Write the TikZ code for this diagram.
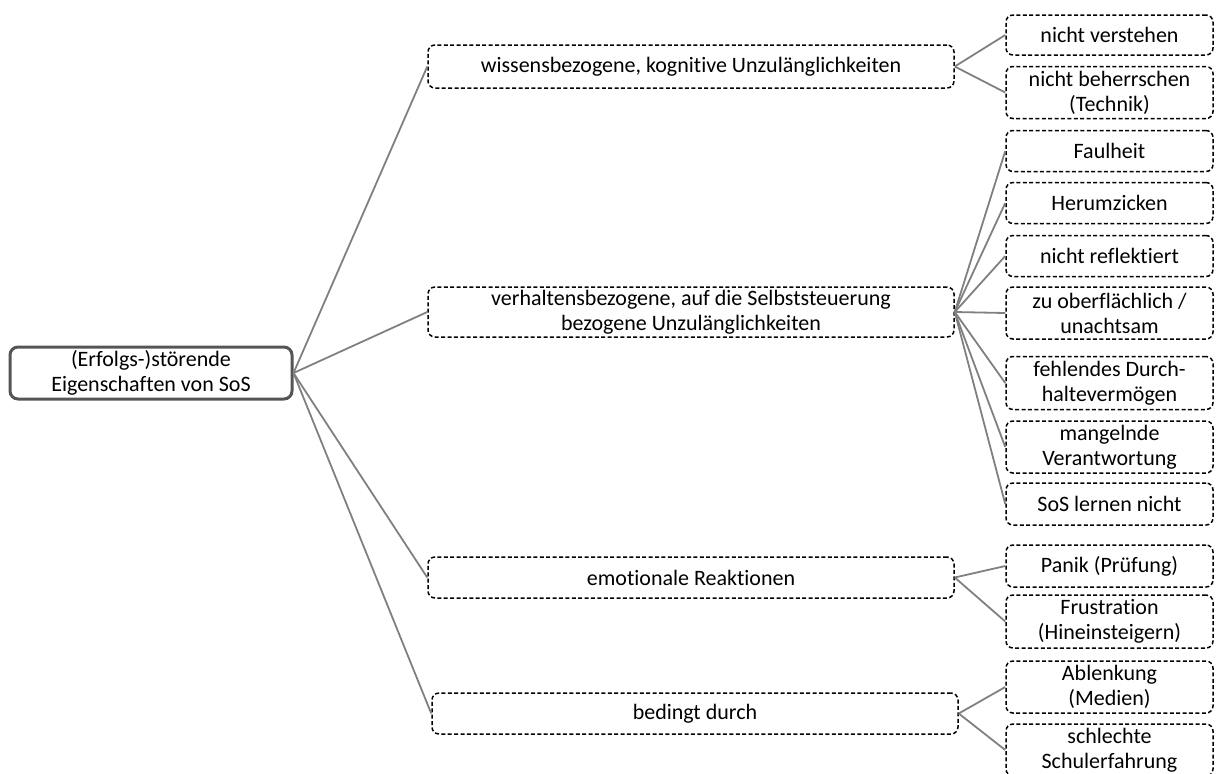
\documentclass[tikz,border=0pt]{standalone}
\usepackage{xcolor}
\usepackage{fontspec}
\setmainfont{Carlito}[Ligatures=NoCommon]
\usepackage{tikz}

\definecolor{randgrau}{HTML}{555555}
\definecolor{liniengrau}{HTML}{808080}

\begin{document}
\begin{tikzpicture}[x=0.5pt,y=0.5pt,yscale=-1,xscale=1,
  every node/.style={font=\fontsize{11pt}{12.5pt}\selectfont,align=center,inner sep=0pt},
  wurzelbox/.style={draw=randgrau,line width=1.5pt,rounded corners=4pt,minimum width=141pt,minimum height=26pt},
  gestrichelt/.style={draw=black,line width=0.75pt,dash pattern=on 2pt off 1.2pt,rounded corners=3.5pt},
  mittelbox/.style={gestrichelt,minimum width=263pt},
  blattbox/.style={gestrichelt,minimum width=103.5pt},
  ast/.style={draw=liniengrau,line width=0.9pt}]
\useasboundingbox (0,0) rectangle (1217,773);
%根节点
\node [wurzelbox] (wurzel) at (151,373) {(Erfolgs-)störende\\Eigenschaften von SoS};
%第二层
\node [mittelbox,minimum height=21.5pt] (wissen) at (691,66.5) {wissensbezogene, kognitive Unzulänglichkeiten};
\node [mittelbox,minimum height=25pt] (verhalten) at (691,312) {verhaltensbezogene, auf die Selbststeuerung\\bezogene Unzulänglichkeiten};
\node [mittelbox,minimum height=20.5pt] (emotion) at (691,577.5) {emotionale Reaktionen};
\node [mittelbox,minimum height=20.5pt] (bedingt) at (695,713.5) {bedingt durch};
%第三层
\node [blattbox,minimum height=20pt] (verstehen) at (1109.5,35) {nicht verstehen};
\node [blattbox,minimum height=26pt] (beherrschen) at (1109.5,92.5) {nicht beherrschen\\(Technik)};
\node [blattbox,minimum height=20.5pt] (faulheit) at (1109.5,151) {Faulheit};
\node [blattbox,minimum height=20.5pt] (zicken) at (1109.5,203) {Herumzicken};
\node [blattbox,minimum height=20.5pt] (reflektiert) at (1109.5,256) {nicht reflektiert};
\node [blattbox,minimum height=26pt] (oberflaechlich) at (1109.5,313) {zu oberflächlich /\\unachtsam};
\node [blattbox,minimum height=26.5pt] (durchhalten) at (1109.5,383) {fehlendes Durch-\\haltevermögen};
\node [blattbox,minimum height=26pt] (verantwortung) at (1109.5,447) {mangelnde\\Verantwortung};
\node [blattbox,minimum height=21pt] (lernen) at (1109.5,504) {SoS lernen nicht};
\node [blattbox,minimum height=21pt] (panik) at (1109.5,566) {Panik (Prüfung)};
\node [blattbox,minimum height=26.5pt] (frust) at (1109.5,621.5) {Frustration\\(Hineinsteigern)};
\node [blattbox,minimum height=26pt] (ablenkung) at (1109.5,687) {Ablenkung\\(Medien)};
\node [blattbox,minimum height=26pt] (schule) at (1109.5,750) {schlechte\\Schulerfahrung};
%连线
\draw [ast] (wurzel.east) -- (wissen.west);
\draw [ast] (wurzel.east) -- (verhalten.west);
\draw [ast] (wurzel.east) -- (emotion.west);
\draw [ast] (wurzel.east) -- (bedingt.west);
\draw [ast] (wissen.east) -- (verstehen.west);
\draw [ast] (wissen.east) -- (beherrschen.west);
\draw [ast] (verhalten.east) -- (faulheit.west);
\draw [ast] (verhalten.east) -- (zicken.west);
\draw [ast] (verhalten.east) -- (reflektiert.west);
\draw [ast] (verhalten.east) -- (oberflaechlich.west);
\draw [ast] (verhalten.east) -- (durchhalten.west);
\draw [ast] (verhalten.east) -- (verantwortung.west);
\draw [ast] (verhalten.east) -- (lernen.west);
\draw [ast] (emotion.east) -- (panik.west);
\draw [ast] (emotion.east) -- (frust.west);
\draw [ast] (bedingt.east) -- (ablenkung.west);
\draw [ast] (bedingt.east) -- (schule.west);
\end{tikzpicture}
\end{document}
